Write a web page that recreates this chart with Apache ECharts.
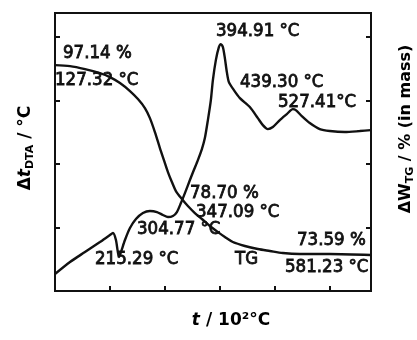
<!DOCTYPE html>
<html><head><meta charset="utf-8">
<script src="https://cdn.jsdelivr.net/npm/echarts@6/dist/echarts.min.js"></script>
<style>html,body{margin:0;padding:0;background:#fff}#c{width:417px;height:340px}</style>
</head><body><div id="c"></div>
<script>
// Temperatures (°C) and DTA signal (relative units, one tick = 1)
const dtaTemps = [100.0,127.3,154.5,181.8,200.0,205.5,210.9,216.4,220.0,227.3,236.4,247.3,260.0,272.7,285.5,296.4,305.5,314.5,321.8,329.1,336.4,345.5,352.7,360.0,367.3,372.7,378.2,383.6,387.3,392.7,398.2,401.8,405.5,409.1,412.7,416.4,425.5,436.4,454.5,469.1,478.2,487.3,496.4,509.1,521.8,532.7,538.2,549.1,563.6,581.8,600.0,627.3,654.5,674.5];
const dtaValues = [0.268,0.457,0.614,0.772,0.882,0.913,0.803,0.535,0.614,0.803,0.992,1.134,1.228,1.260,1.244,1.197,1.165,1.181,1.244,1.386,1.543,1.748,1.906,2.063,2.236,2.409,2.693,3.008,3.323,3.638,3.843,3.890,3.843,3.669,3.449,3.291,3.165,3.039,2.898,2.724,2.614,2.551,2.583,2.693,2.787,2.866,2.850,2.756,2.646,2.551,2.520,2.504,2.520,2.535];
// TG curve (relative units, one tick = 1)
const tgTemps = [100.0,127.3,154.5,181.8,200.0,218.2,236.4,250.9,263.6,272.7,281.8,290.9,298.2,305.5,312.7,320.0,330.9,341.8,354.5,367.3,381.8,396.4,409.1,423.6,445.5,469.1,490.9,514.5,545.5,600.0,674.5];
const tgValues = [3.559,3.543,3.496,3.433,3.370,3.276,3.150,3.024,2.882,2.724,2.504,2.252,2.063,1.874,1.717,1.575,1.449,1.339,1.228,1.134,1.024,0.929,0.850,0.772,0.709,0.661,0.630,0.598,0.583,0.583,0.567];
// Annotation texts
const annotations = ['97.14 %','127.32 °C','394.91 °C','439.30 °C','527.41°C','78.70 %','347.09 °C','304.77 °C','215.29 °C','TG','73.59 %','581.23 °C'];

const annPos = [[63,44],[55,71],[216,22],[240,73],[278,93],[190,184],[196,203],[137,220],[95,250],[235,250],[297,231],[285,258]];
const labelFont = "'DejaVu Sans Condensed','Liberation Sans Narrow','DejaVu Sans',sans-serif";
const ink = '#111';

const chart = echarts.init(document.getElementById('c'), null, {renderer:'canvas'});
const graphics = annotations.map((t,i)=>({
  type:'text', x:annPos[i][0], y:annPos[i][1], z:10,
  style:{text:t, fill:ink, stroke:ink, lineWidth:0.8, font:"18.5px "+labelFont, align:'left', verticalAlign:'top'}
}));
const nameRich = {
  m:{fontSize:17, fontWeight:'bold', fontFamily:'DejaVu Sans', color:ink},
  i:{fontSize:17, fontWeight:'bold', fontStyle:'italic', fontFamily:'DejaVu Sans', color:ink},
  s:{fontSize:11, fontWeight:'bold', fontFamily:'DejaVu Sans', color:ink, verticalAlign:'bottom', padding:[8,0,0,0]}
};
graphics.push({type:'text', x:26, y:148, rotation:Math.PI/2,
  style:{text:'{m|Δ}{i|t}{s|DTA}{m| / °C}', rich:nameRich, align:'center', verticalAlign:'middle'}});
graphics.push({type:'text', x:406, y:129, rotation:Math.PI/2,
  style:{text:'{m|ΔW}{s|TG}{m| / % (in mass)}', rich:{
    m:{fontSize:16, fontWeight:'bold', fontFamily:'DejaVu Sans', color:ink},
    s:{fontSize:11, fontWeight:'bold', fontFamily:'DejaVu Sans', color:ink, verticalAlign:'bottom', padding:[8,0,0,0]}
  }, align:'center', verticalAlign:'middle'}});
graphics.push({type:'text', x:231, y:321,
  style:{text:'{i|t}{m| / 10²°C}', rich:nameRich, align:'center', verticalAlign:'middle'}});

chart.setOption({
  animation:false,
  backgroundColor:'#fff',
  grid:{left:55, right:46, top:13, bottom:49, show:true, borderColor:ink, borderWidth:2, backgroundColor:'transparent'},
  xAxis:{type:'value', min:100, max:675, interval:100,
    axisLine:{show:true, lineStyle:{color:ink, width:2}},
    axisTick:{show:true, inside:true, length:5, lineStyle:{color:ink, width:2}},
    axisLabel:{show:false}, splitLine:{show:false}},
  yAxis:[
    {type:'value', min:0, max:4.38, interval:1, position:'left',
      axisLine:{show:true, lineStyle:{color:ink, width:2}},
      axisTick:{show:true, inside:true, length:5, lineStyle:{color:ink, width:2}},
      axisLabel:{show:false}, splitLine:{show:false}},
    {type:'value', min:0, max:4.38, interval:1, position:'right',
      axisLine:{show:true, lineStyle:{color:ink, width:2}},
      axisTick:{show:true, inside:true, length:5, lineStyle:{color:ink, width:2}},
      axisLabel:{show:false}, splitLine:{show:false}}
  ],
  series:[
    {type:'line', yAxisIndex:0, data:dtaTemps.map((t,i)=>[t,dtaValues[i]]), showSymbol:false, smooth:0.25,
      lineStyle:{color:ink, width:2.4}},
    {type:'line', yAxisIndex:1, data:tgTemps.map((t,i)=>[t,tgValues[i]]), showSymbol:false, smooth:0.3,
      lineStyle:{color:ink, width:2.4}}
  ],
  graphic:graphics
});
</script></body></html>
